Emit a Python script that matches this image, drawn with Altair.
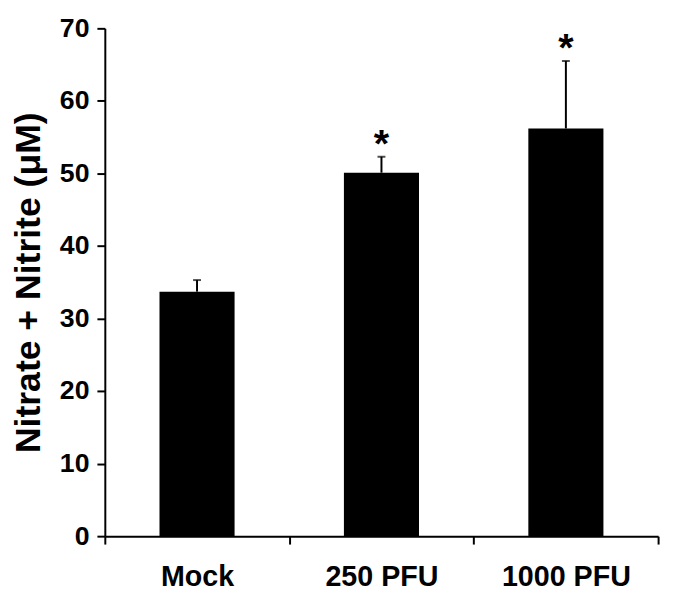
import altair as alt
import pandas as pd

groups = ["Mock", "250 PFU", "1000 PFU"]
means = [33.7, 50.1, 56.2]
upper = [35.3, 52.3, 65.5]
sig = ["", "*", "*"]

df = pd.DataFrame({"group": groups, "mean": means, "upper": upper, "sig": sig})

FONT = "Liberation Sans"

xenc = alt.X(
    "group:N",
    sort=groups,
    scale=alt.Scale(paddingInner=0, paddingOuter=0),
    axis=alt.Axis(
        title=None,
        labelAngle=0,
        labelFont=FONT,
        labelFontSize=29,
        labelFontWeight="bold",
        labelColor="black",
        labelPadding=19,
        domainColor="black",
        domainWidth=2,
        tickBand="extent",
        tickSize=8,
        tickWidth=2,
        tickColor="black",
    ),
)

yenc = alt.Y(
    "mean:Q",
    scale=alt.Scale(domain=[0, 70], nice=False),
    axis=alt.Axis(
        values=list(range(0, 71, 10)),
        title="Nitrate + Nitrite (μM)",
        titleFont=FONT,
        titleFontSize=36,
        titleFontWeight="bold",
        titleColor="black",
        titlePadding=12,
        labelFont=FONT,
        labelFontSize=27,
        labelFontWeight="bold",
        labelColor="black",
        labelPadding=8,
        domainColor="black",
        domainWidth=2,
        tickSize=8,
        tickWidth=2,
        tickColor="black",
        grid=False,
    ),
)

base = alt.Chart(df)

bars = base.mark_bar(size=76, color="black").encode(x=xenc, y=yenc)

err = base.mark_rule(color="black", strokeWidth=2).encode(
    x=alt.X("group:N", sort=groups), y="mean:Q", y2="upper:Q"
)

cap = base.mark_tick(color="black", orient="horizontal", size=8, thickness=2).encode(
    x=alt.X("group:N", sort=groups), y="upper:Q"
)

stars = base.mark_text(
    font=FONT, fontSize=40, fontWeight="bold", color="black", baseline="alphabetic", dy=0
).encode(x=alt.X("group:N", sort=groups), y="upper:Q", text="sig:N")

chart = (
    alt.layer(bars, err, cap, stars)
    .properties(
        width=560,
        height=514,
        autosize=alt.AutoSizeParams(type="none"),
        padding={"left": 98, "top": 17, "right": 8, "bottom": 59},
        background="white",
    )
    .configure_view(stroke=None)
)

chart.save("out.html", embed_options={"renderer": "svg", "actions": False})
